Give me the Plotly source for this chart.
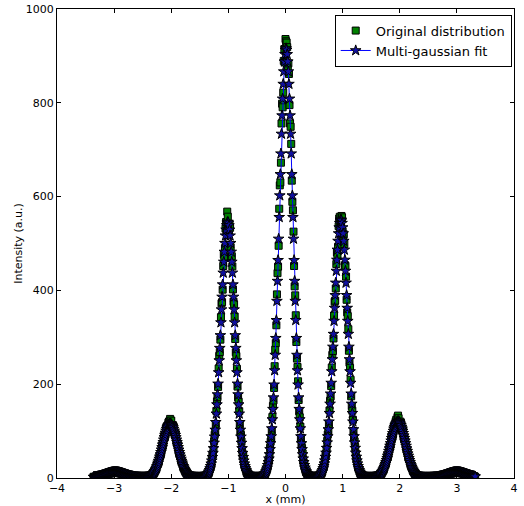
import numpy as np
import plotly.graph_objs as go

# ----- both curves are sampled every 0.01 mm from -3.36 mm to 3.32 mm -----
x0 = -3.36
x_step = 0.01

# measured distribution (green squares)
orig_y = [
    2.6, 1.6, 1.8, 2.9, 3.1, 2.3, 2.7, 3.9, 4.2, 3.3,
    3.6, 4.9, 5.5, 4.6, 4.9, 6.4, 7.0, 6.0, 6.4, 8.1,
    8.8, 7.7, 8.1, 9.9, 10.6, 9.2, 9.8, 11.5, 12.3, 10.8,
    11.0, 12.8, 13.6, 11.9, 12.1, 13.5, 14.2, 12.3, 12.4, 13.9,
    14.0, 12.1, 12.0, 13.3, 13.1, 11.4, 11.0, 12.2, 12.0, 10.1,
    9.6, 10.6, 10.3, 8.5, 8.0, 9.0, 8.6, 6.8, 6.3, 7.3,
    6.9, 5.2, 4.8, 5.7, 5.3, 3.9, 3.5, 4.4, 4.0, 2.8,
    2.5, 3.3, 3.1, 1.9, 1.8, 2.6, 2.5, 1.4, 1.3, 2.2,
    2.1, 1.2, 1.0, 1.9, 1.9, 1.0, 0.9, 1.9, 1.8, 1.0,
    1.1, 2.0, 2.2, 1.4, 1.6, 2.8, 3.3, 2.5, 3.0, 4.7,
    5.6, 5.0, 6.0, 8.5, 10.2, 9.8, 11.5, 15.3, 17.9, 18.2,
    21.0, 26.6, 30.4, 31.0, 34.8, 42.9, 47.6, 48.2, 53.0, 63.0,
    68.9, 68.4, 73.8, 85.0, 90.8, 88.7, 93.5, 104.6, 109.2, 104.9,
    108.0, 117.8, 120.5, 112.4, 126.0, 121.9, 122.3, 110.1, 108.1, 112.6,
    109.5, 97.6, 93.0, 95.4, 90.4, 78.9, 73.6, 74.1, 68.5, 58.0,
    52.7, 52.3, 47.3, 39.0, 34.5, 33.9, 30.2, 23.9, 20.8, 20.2,
    17.6, 13.5, 11.6, 11.3, 10.0, 7.1, 5.9, 6.2, 5.4, 3.6,
    3.0, 3.5, 3.1, 1.8, 1.6, 2.3, 2.1, 1.1, 1.0, 1.8,
    1.7, 0.8, 0.8, 1.7, 1.6, 0.7, 0.8, 1.7, 1.8, 0.9,
    1.1, 2.2, 2.5, 1.7, 2.1, 3.7, 4.5, 4.0, 5.1, 7.8,
    9.6, 10.2, 12.6, 17.8, 21.8, 23.8, 29.1, 39.0, 46.9, 51.2,
    60.8, 78.3, 92.1, 99.1, 114.7, 143.0, 163.4, 172.4, 194.2, 233.6,
    260.3, 268.5, 295.0, 343.0, 372.5, 374.9, 401.6, 452.0, 476.2, 470.3,
    490.3, 531.8, 545.8, 527.4, 568.0, 557.2, 538.0, 529.0, 541.5, 533.5,
    492.0, 470.6, 472.9, 451.2, 402.1, 376.0, 370.4, 344.3, 296.3, 268.0,
    259.8, 232.9, 194.9, 171.8, 162.7, 142.5, 114.5, 98.6, 91.6, 77.9,
    60.5, 51.0, 46.6, 38.6, 29.0, 23.7, 21.5, 17.6, 12.5, 10.2,
    9.5, 7.7, 5.1, 4.1, 4.4, 3.6, 2.1, 1.7, 2.4, 2.2,
    1.1, 1.9, 1.8, 0.8, 0.8, 1.7, 1.7, 0.8, 0.9, 1.8,
    1.9, 1.2, 1.4, 2.6, 3.1, 2.5, 3.2, 5.3, 6.5, 6.4,
    8.2, 12.1, 15.2, 16.8, 20.8, 28.9, 35.4, 39.5, 48.1, 64.2,
    77.5, 85.2, 101.3, 130.1, 153.6, 165.3, 192.0, 238.4, 273.5, 287.6,
    325.7, 391.5, 436.8, 450.6, 495.2, 574.1, 624.0, 630.2, 672.3, 756.0,
    798.1, 790.4, 821.7, 889.3, 914.6, 886.0, 936.0, 931.2, 928.4, 918.7,
    870.2, 884.0, 861.5, 795.1, 756.0, 748.9, 712.4, 634.0, 588.9, 570.8,
    525.3, 452.0, 408.7, 389.4, 347.0, 290.0, 254.6, 236.8, 206.2, 166.2,
    142.0, 129.5, 109.7, 85.6, 71.2, 63.7, 52.6, 39.6, 32.0, 28.4,
    23.1, 16.7, 13.2, 11.9, 9.7, 6.4, 5.1, 5.2, 4.3, 2.5,
    2.0, 2.7, 2.4, 1.2, 1.1, 2.0, 2.0, 1.0, 1.2, 2.2,
    2.5, 1.7, 2.1, 3.6, 4.4, 4.0, 5.2, 7.8, 9.7, 10.3,
    12.7, 17.8, 21.9, 24.0, 29.3, 39.2, 47.2, 51.7, 61.4, 78.8,
    92.7, 99.8, 115.8, 144.1, 164.6, 173.9, 196.0, 235.5, 262.4, 270.8,
    297.5, 346.5, 375.8, 378.2, 404.2, 456.1, 480.6, 474.9, 493.0, 537.0,
    553.2, 556.9, 541.0, 540.2, 558.7, 555.8, 525.4, 510.7, 519.6, 499.0,
    453.8, 452.3, 429.5, 380.0, 353.1, 345.1, 317.2, 271.3, 245.9, 234.8,
    209.4, 174.2, 153.2, 143.5, 124.1, 100.1, 85.7, 78.0, 66.0, 51.9,
    43.1, 38.7, 31.8, 24.1, 19.6, 17.6, 14.3, 10.3, 8.1, 7.7,
    6.3, 4.1, 3.3, 3.6, 3.1, 1.7, 1.5, 2.2, 2.0, 0.9,
    0.9, 1.7, 1.7, 0.8, 0.8, 1.7, 1.6, 0.8, 0.9, 1.9,
    2.0, 1.2, 1.4, 2.6, 2.9, 2.2, 2.6, 4.2, 4.9, 4.4,
    5.2, 7.5, 8.8, 8.8, 10.3, 13.7, 16.1, 16.4, 18.9, 24.1,
    27.8, 28.5, 32.1, 39.6, 44.7, 45.2, 50.0, 60.1, 66.1, 65.9,
    71.2, 82.9, 89.3, 87.4, 92.6, 104.5, 110.2, 105.6, 109.4, 120.7,
    124.3, 116.3, 129.8, 133.0, 127.5, 116.9, 114.6, 120.2, 118.1, 105.8,
    101.9, 104.4, 100.3, 87.6, 82.2, 82.7, 77.4, 66.1, 60.5, 59.8,
    54.6, 45.3, 40.8, 39.4, 35.2, 28.5, 25.0, 23.9, 20.9, 16.4,
    14.1, 13.6, 11.8, 8.8, 7.4, 7.4, 6.4, 4.5, 3.7, 4.1,
    3.6, 2.2, 1.9, 2.6, 2.3, 1.2, 1.0, 1.9, 1.8, 0.9,
    0.8, 1.7, 1.7, 0.8, 0.8, 1.7, 1.7, 0.8, 0.9, 1.8,
    1.8, 0.9, 1.0, 2.0, 2.1, 1.2, 1.3, 2.4, 2.6, 1.6,
    1.8, 2.9, 3.2, 2.3, 2.5, 3.9, 4.1, 3.2, 3.6, 5.0,
    5.4, 4.5, 4.8, 6.5, 7.0, 6.0, 6.4, 8.1, 8.8, 7.6,
    8.0, 9.9, 10.6, 9.2, 9.7, 11.6, 12.4, 10.7, 11.0, 12.9,
    13.8, 11.8, 12.0, 13.7, 14.3, 12.2, 12.3, 13.9, 14.1, 12.1,
    12.0, 13.3, 13.3, 11.3, 11.0, 12.2, 12.0, 10.0, 9.6, 10.6,
    10.3, 8.5, 8.0, 9.0, 8.6, 6.8, 6.3, 7.2, 6.9, 5.2,
    4.8, 5.7, 5.3, 3.9, 3.5, 4.3, 4.0, 2.9, 2.5,
]

# multi-gaussian fit (blue stars + line)
fit_y = [
    2.0, 2.1, 2.3, 2.4, 2.6, 2.8, 3.0, 3.3, 3.5, 3.8,
    4.1, 4.4, 4.7, 5.1, 5.4, 5.8, 6.2, 6.6, 7.0, 7.4,
    7.9, 8.3, 8.7, 9.1, 9.5, 9.9, 10.4, 10.7, 11.1, 11.4,
    11.7, 12.0, 12.3, 12.5, 12.7, 12.8, 12.9, 13.0, 13.0, 13.0,
    12.9, 12.8, 12.7, 12.5, 12.3, 12.0, 11.7, 11.4, 11.1, 10.7,
    10.4, 9.9, 9.5, 9.1, 8.7, 8.3, 7.9, 7.4, 7.0, 6.6,
    6.2, 5.8, 5.4, 5.1, 4.7, 4.4, 4.1, 3.8, 3.5, 3.3,
    3.0, 2.8, 2.6, 2.4, 2.3, 2.1, 2.0, 1.9, 1.8, 1.7,
    1.6, 1.6, 1.5, 1.4, 1.4, 1.4, 1.4, 1.4, 1.4, 1.4,
    1.5, 1.6, 1.7, 1.8, 2.0, 2.3, 2.6, 3.0, 3.5, 4.1,
    4.8, 5.6, 6.5, 7.7, 9.1, 10.5, 12.3, 14.3, 16.5, 19.1,
    21.9, 25.0, 28.5, 32.2, 36.2, 40.6, 45.0, 49.9, 54.9, 60.1,
    65.4, 70.8, 76.1, 81.4, 86.6, 91.5, 96.1, 100.5, 104.4, 107.8,
    110.7, 113.0, 114.6, 115.7, 116.0, 115.7, 114.6, 113.0, 110.7, 107.8,
    104.4, 100.5, 96.1, 91.5, 86.6, 81.4, 76.1, 70.8, 65.4, 60.1,
    54.9, 49.9, 45.0, 40.6, 36.2, 32.2, 28.5, 25.0, 21.9, 19.1,
    16.5, 14.3, 12.3, 10.5, 9.1, 7.7, 6.5, 5.6, 4.8, 4.1,
    3.5, 3.0, 2.6, 2.3, 2.0, 1.8, 1.6, 1.5, 1.4, 1.3,
    1.2, 1.2, 1.2, 1.2, 1.1, 1.1, 1.2, 1.2, 1.3, 1.4,
    1.5, 1.7, 1.9, 2.2, 2.6, 3.1, 3.8, 4.6, 5.7, 7.0,
    8.7, 10.9, 13.4, 16.6, 20.3, 24.9, 30.4, 36.8, 44.4, 53.1,
    63.2, 74.7, 87.8, 102.5, 118.9, 136.9, 156.6, 178.0, 200.8, 225.0,
    250.5, 276.9, 304.1, 331.5, 359.1, 386.1, 412.4, 437.4, 460.7, 482.0,
    500.7, 516.6, 529.2, 538.5, 544.1, 546.0, 544.1, 538.5, 529.2, 516.6,
    500.7, 482.0, 460.7, 437.4, 412.4, 386.1, 359.1, 331.5, 304.1, 276.9,
    250.5, 225.0, 200.8, 178.0, 156.6, 136.9, 118.9, 102.5, 87.8, 74.7,
    63.2, 53.1, 44.4, 36.8, 30.4, 24.9, 20.3, 16.6, 13.4, 10.9,
    8.7, 7.0, 5.7, 4.6, 3.8, 3.1, 2.6, 2.2, 1.9, 1.7,
    1.5, 1.4, 1.3, 1.2, 1.2, 1.2, 1.2, 1.2, 1.3, 1.3,
    1.4, 1.6, 1.8, 2.1, 2.5, 3.0, 3.7, 4.6, 5.7, 7.0,
    8.9, 11.2, 14.0, 17.6, 21.9, 27.2, 33.5, 41.2, 50.3, 61.1,
    73.8, 88.5, 105.5, 124.8, 146.8, 171.5, 198.9, 229.2, 262.2, 298.1,
    336.4, 377.2, 419.9, 464.3, 509.8, 556.0, 602.2, 647.5, 691.6, 733.6,
    772.8, 808.5, 840.0, 866.6, 887.8, 903.4, 912.8, 916.0, 912.8, 903.4,
    887.8, 866.6, 840.0, 808.5, 772.8, 733.6, 691.6, 647.5, 602.2, 556.0,
    509.8, 464.3, 419.9, 377.2, 336.4, 298.1, 262.2, 229.2, 198.9, 171.5,
    146.8, 124.8, 105.5, 88.5, 73.8, 61.1, 50.3, 41.2, 33.5, 27.2,
    21.9, 17.6, 14.0, 11.2, 8.9, 7.0, 5.7, 4.6, 3.7, 3.0,
    2.5, 2.2, 1.9, 1.7, 1.6, 1.5, 1.5, 1.5, 1.6, 1.7,
    2.0, 2.2, 2.6, 3.1, 3.8, 4.6, 5.7, 7.1, 8.8, 11.0,
    13.5, 16.7, 20.5, 25.1, 30.6, 37.1, 44.8, 53.6, 63.8, 75.4,
    88.6, 103.5, 120.0, 138.2, 158.0, 179.6, 202.6, 227.1, 252.8, 279.5,
    306.9, 334.6, 362.4, 389.6, 416.1, 441.4, 464.9, 486.4, 505.3, 521.3,
    534.1, 543.4, 549.1, 551.0, 549.1, 543.4, 534.1, 521.3, 505.3, 486.4,
    464.9, 441.4, 416.1, 389.6, 362.4, 334.6, 306.9, 279.5, 252.8, 227.1,
    202.6, 179.6, 158.0, 138.2, 120.0, 103.5, 88.6, 75.4, 63.8, 53.6,
    44.8, 37.1, 30.6, 25.1, 20.5, 16.7, 13.5, 11.0, 8.8, 7.1,
    5.7, 4.6, 3.8, 3.1, 2.6, 2.2, 1.9, 1.7, 1.5, 1.4,
    1.3, 1.2, 1.2, 1.2, 1.2, 1.2, 1.2, 1.2, 1.3, 1.4,
    1.5, 1.7, 1.8, 2.1, 2.4, 2.7, 3.1, 3.6, 4.2, 5.0,
    5.8, 6.8, 8.0, 9.4, 11.0, 12.8, 14.9, 17.2, 19.8, 22.8,
    26.1, 29.7, 33.5, 37.7, 42.3, 47.0, 52.0, 57.3, 62.7, 68.2,
    73.8, 79.4, 84.9, 90.3, 95.4, 100.2, 104.8, 108.9, 112.5, 115.5,
    117.9, 119.6, 120.6, 121.0, 120.6, 119.6, 117.9, 115.5, 112.5, 108.9,
    104.8, 100.2, 95.4, 90.3, 84.9, 79.4, 73.8, 68.2, 62.7, 57.3,
    52.0, 47.0, 42.3, 37.7, 33.5, 29.7, 26.1, 22.8, 19.8, 17.2,
    14.9, 12.8, 11.0, 9.4, 8.0, 6.8, 5.8, 5.0, 4.2, 3.6,
    3.1, 2.7, 2.4, 2.1, 1.8, 1.7, 1.5, 1.4, 1.3, 1.3,
    1.2, 1.2, 1.2, 1.2, 1.2, 1.2, 1.2, 1.2, 1.2, 1.3,
    1.3, 1.4, 1.4, 1.5, 1.6, 1.7, 1.8, 1.9, 2.0, 2.1,
    2.3, 2.4, 2.6, 2.8, 3.0, 3.3, 3.5, 3.8, 4.1, 4.4,
    4.7, 5.1, 5.4, 5.8, 6.2, 6.6, 7.0, 7.4, 7.9, 8.3,
    8.7, 9.1, 9.5, 9.9, 10.4, 10.7, 11.1, 11.4, 11.7, 12.0,
    12.3, 12.5, 12.7, 12.8, 12.9, 13.0, 13.0, 13.0, 12.9, 12.8,
    12.7, 12.5, 12.3, 12.0, 11.7, 11.4, 11.1, 10.7, 10.4, 9.9,
    9.5, 9.1, 8.7, 8.3, 7.9, 7.4, 7.0, 6.6, 6.2, 5.8,
    5.4, 5.1, 4.7, 4.4, 4.1, 3.8, 3.5, 3.3, 3.0,
]

x_ticks = [-4, -3, -2, -1, 0, 1, 2, 3, 4]
y_ticks = [0, 200, 400, 600, 800, 1000]

# sample positions (mm)
orig_x = np.round(x0 + x_step * np.arange(len(orig_y)), 2)
fit_x = np.round(x0 + x_step * np.arange(len(fit_y)), 2)

font = "DejaVu Sans, Liberation Sans, sans-serif"

trace0 = go.Scatter(
    x=orig_x, y=orig_y,
    mode="markers",
    name="Original distribution",
    marker=dict(symbol="square", size=7, color="#008000",
                line=dict(color="black", width=1)),
)

trace1 = go.Scatter(
    x=fit_x, y=fit_y,
    mode="lines+markers",
    name="Multi-gaussian fit",
    line=dict(color="#0000ff", width=1),
    marker=dict(symbol="star", size=8, color="#1010a0",
                line=dict(color="black", width=1)),
)

fig = go.Figure(data=[trace0, trace1])

axis_style = dict(
    showline=True, linecolor="black", linewidth=1, mirror="ticks",
    ticks="inside", ticklen=4, tickcolor="black", tickwidth=1,
    showgrid=False, zeroline=False,
    tickfont=dict(family=font, size=11, color="black"),
)

fig.update_layout(
    width=524, height=506,
    margin=dict(l=57, r=10, t=9, b=28),
    paper_bgcolor="white", plot_bgcolor="white",
    font=dict(family=font, size=11, color="black"),
    showlegend=True,
    legend=dict(
        x=0.995, y=0.988, xanchor="right", yanchor="top",
        bgcolor="white", bordercolor="black", borderwidth=1,
        font=dict(family=font, size=13, color="black"),
        tracegroupgap=0, itemwidth=30,
    ),
)
fig.update_xaxes(
    range=[-4, 4], tickvals=x_ticks,
    title=dict(text="x (mm)", font=dict(family=font, size=11), standoff=0),
    automargin=False, **axis_style,
)
fig.update_yaxes(
    range=[0, 1000], tickvals=y_ticks,
    title=dict(text="Intensity (a.u.)", font=dict(family=font, size=11), standoff=0),
    automargin=False, **axis_style,
)

# drop the default 8px page margin so the figure sits at the window corner
fig.write_html("out.html", config={"displayModeBar": False},
               post_script="document.body.style.margin='0';")
